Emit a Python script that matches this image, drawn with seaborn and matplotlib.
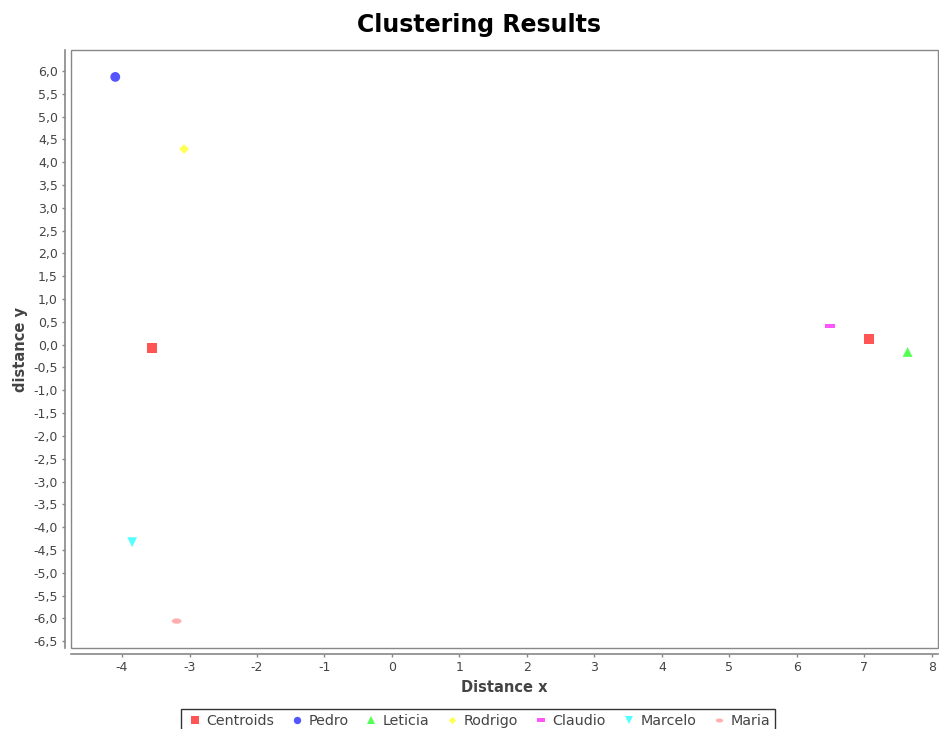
import numpy as np
import pandas as pd
import matplotlib
matplotlib.use("Agg")
import matplotlib.pyplot as plt
import seaborn as sns
from matplotlib.patches import Rectangle
from matplotlib.ticker import FuncFormatter, MultipleLocator

# ------------------------------- Data ------------------------------- #
names = ["Centroids", "Centroids", "Pedro", "Leticia", "Rodrigo", "Claudio", "Marcelo", "Maria"]
xs = [-3.55, 7.07, -4.10, 7.64, -3.08, 6.49, -3.85, -3.19]
ys = [-0.07, 0.12, 5.87, -0.16, 4.29, 0.41, -4.33, -6.06]
series = ["Centroids", "Pedro", "Leticia", "Rodrigo", "Claudio", "Marcelo", "Maria"]
colors = ["#FF5555", "#5555FF", "#55FF55", "#FFFF55", "#FF55FF", "#55FFFF", "#FFAFAF"]

df = pd.DataFrame({"name": names, "x": xs, "y": ys})

# marker shapes (JFreeChart-like)
t = np.linspace(0, 2 * np.pi, 30)
ellipse = list(zip(np.cos(t), 0.55 * np.sin(t)))
flat_rect = [(-1, -0.5), (1, -0.5), (1, 0.5), (-1, 0.5), (-1, -0.5)]
diamond = [(0, 1), (1, 0), (0, -1), (-1, 0), (0, 1)]
shapes = ["s", "o", "^", diamond, flat_rect, "v", ellipse]

palette = dict(zip(series, colors))
markers = dict(zip(series, shapes))

# ------------------------------- Plot ------------------------------- #
sns.set_style("white")
fig = plt.figure(figsize=(9.39, 7.29), dpi=100)
ax = fig.add_axes([0.0756, 0.1111, 0.9233, 0.8203])

sns.scatterplot(data=df, x="x", y="y", hue="name", style="name",
                hue_order=series, style_order=series,
                palette=palette, markers=markers, s=50, linewidth=0, ax=ax)

ax.set_xlim(-4.756, 8.09)
ax.set_ylim(-6.65, 6.46)
ax.xaxis.set_major_locator(MultipleLocator(1))
ax.yaxis.set_major_locator(MultipleLocator(0.5))
ax.xaxis.set_major_formatter(FuncFormatter(lambda v, p: f"{v:.0f}"))
ax.yaxis.set_major_formatter(FuncFormatter(lambda v, p: f"{v:.1f}".replace(".", ",")))

grey = "#444444"
for side in ["top", "right"]:
    ax.spines[side].set_visible(False)
for side in ["left", "bottom"]:
    ax.spines[side].set_position(("outward", 4))
    ax.spines[side].set_color("#888888")
    ax.spines[side].set_linewidth(1.2)
ax.add_patch(Rectangle((0, 0), 1, 1, transform=ax.transAxes, fill=False,
                       edgecolor="#888888", linewidth=1.0, clip_on=False))

ax.tick_params(axis="both", direction="out", length=2, width=1, color="#888888",
               labelsize=9, labelcolor=grey, left=True, bottom=True)

ax.set_xlabel("Distance x", fontsize=10.5, fontweight="bold", color=grey)
ax.set_ylabel("distance y", fontsize=10.5, fontweight="bold", color=grey)
fig.text(0.51, 0.966, "Clustering Results", fontsize=17, fontweight="bold",
         color="black", ha="center", va="center")

ax.get_legend().remove()
handles, labels = ax.get_legend_handles_labels()
leg = fig.legend(handles, labels, loc="upper center", bbox_to_anchor=(0.509, 0.037),
                 ncol=7, frameon=True, fancybox=False, edgecolor="black",
                 fontsize=10.3, markerscale=0.75, handletextpad=0.2, columnspacing=1.0,
                 borderpad=0.35, handlelength=1.2)
leg.get_frame().set_linewidth(1.0)
for txt in leg.get_texts():
    txt.set_color(grey)

fig.savefig("out.png", dpi=100)
